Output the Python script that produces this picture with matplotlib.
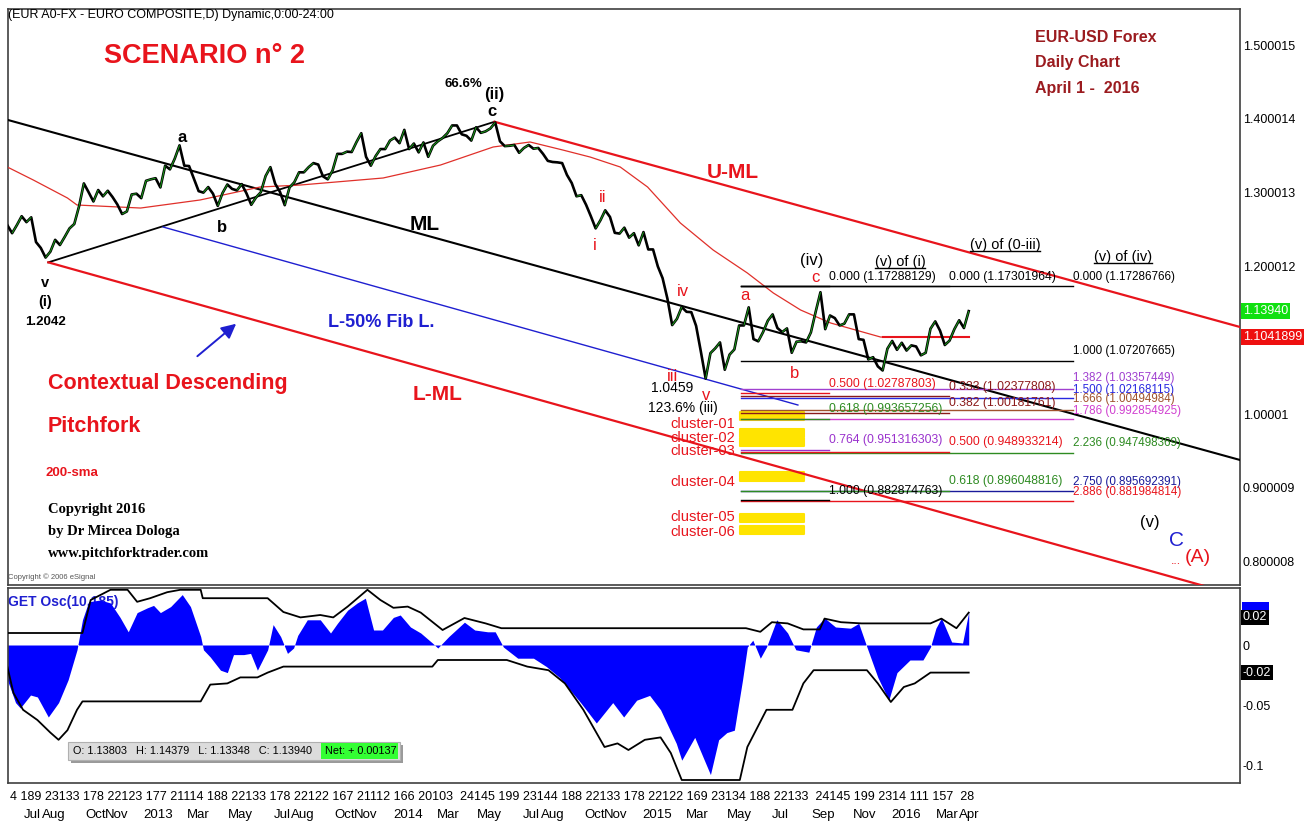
import matplotlib
matplotlib.use("Agg")
import matplotlib.pyplot as plt
import matplotlib.dates as mdates
from matplotlib.collections import LineCollection
from matplotlib.lines import Line2D
from matplotlib.patches import Rectangle
import numpy as np
import pandas as pd

W, H = 1314, 825
SANS = ["Liberation Sans", "DejaVu Sans"]
plt.rcParams["font.family"] = SANS

# --- weekly closes (Friday bars) ---
close_2012 = [1.2560, 1.2450, 1.2560, 1.2680, 1.2600, 1.2665, 1.2330, 1.2250, 1.2120, 1.2200,
              1.2360, 1.2290, 1.2400, 1.2515, 1.2575, 1.2815, 1.3125, 1.3005, 1.2880, 1.3035,
              1.2950, 1.3025, 1.2940, 1.2840, 1.2710, 1.2745, 1.2975, 1.2985, 1.2925, 1.3160,
              1.3180, 1.3195]
close_2013 = [1.3070, 1.3365, 1.3315, 1.3460, 1.3640, 1.3365, 1.3360, 1.3190, 1.3020, 1.3000,
              1.3075, 1.2985, 1.2820, 1.2995, 1.3110, 1.3050, 1.3030, 1.3115, 1.2990, 1.2835,
              1.2935, 1.3005, 1.3225, 1.3345, 1.3120, 1.3010, 1.2830, 1.3070, 1.3140, 1.3275,
              1.3275, 1.3345, 1.3400, 1.3380, 1.3220, 1.3180, 1.3300, 1.3525, 1.3525, 1.3555,
              1.3550, 1.3685, 1.3805, 1.3485, 1.3365, 1.3495, 1.3590, 1.3590, 1.3705, 1.3745,
              1.3670, 1.3850]
close_2014 = [1.3590, 1.3665, 1.3545, 1.3680, 1.3485, 1.3635, 1.3695, 1.3740, 1.3805, 1.3910,
              1.3910, 1.3790, 1.3770, 1.3705, 1.3885, 1.3810, 1.3830, 1.3870, 1.3950, 1.3695,
              1.3630, 1.3635, 1.3645, 1.3540, 1.3605, 1.3645, 1.3595, 1.3605, 1.3525, 1.3430,
              1.3415, 1.3410, 1.3400, 1.3240, 1.3130, 1.2950, 1.2965, 1.2835, 1.2680, 1.2515,
              1.2625, 1.2760, 1.2670, 1.2455, 1.2445, 1.2525, 1.2390, 1.2450, 1.2285, 1.2465,
              1.2230, 1.2230]
close_2015 = [1.2000, 1.1840, 1.1565, 1.1205, 1.1290, 1.1450, 1.1385, 1.1380, 1.1195, 1.0845,
              1.0480, 1.0825, 1.0890, 1.0970, 1.0600, 1.0805, 1.0875, 1.1200, 1.1200, 1.1445,
              1.1015, 1.0985, 1.1110, 1.1265, 1.1350, 1.1165, 1.1110, 1.1160, 1.0830, 1.0980,
              1.0985, 1.0970, 1.1105, 1.1385, 1.1650, 1.1150, 1.1335, 1.1300, 1.1200, 1.1225,
              1.1350, 1.1350, 1.1015, 1.1005, 1.0740, 1.0770, 1.0645, 1.0590, 1.0885, 1.0990,
              1.0870, 1.0965]
close_2016 = [1.0860, 1.0930, 1.0915, 1.0795, 1.0830, 1.1155, 1.1255, 1.1130, 1.0935, 1.0995,
              1.1150, 1.1270, 1.1165, 1.1394]
first_week = "2012-05-25"

# 200-sma as drawn on the chart
sma_dates = ["2012-05-25", "2012-07-02", "2012-08-21", "2012-09-04", "2012-12-06", "2013-03-03",
             "2013-05-30", "2013-07-28", "2013-11-26", "2014-02-18", "2014-05-06", "2014-06-29",
             "2014-08-16", "2014-09-25", "2014-11-08", "2014-12-18", "2015-02-04", "2015-03-24",
             "2015-05-13", "2015-06-20", "2015-07-30", "2015-09-12", "2015-11-24", "2016-04-01"]
sma_vals = [1.3347, 1.3171, 1.2927, 1.2832, 1.2791, 1.2900, 1.3076, 1.3103, 1.3198, 1.3374,
            1.3618, 1.3686, 1.3577, 1.3482, 1.3347, 1.3076, 1.2588, 1.2222, 1.1911, 1.1640,
            1.1409, 1.1233, 1.1043, 1.1043]

# pitchfork anchors (date, price)
fork = {
    "ML": [("2012-05-26", 1.3984), ("2017-05-03", 0.9377)],
    "handle": [("2012-07-24", 1.2055), ("2014-05-08", 1.3960)],
    "U-ML": [("2014-05-08", 1.3960), ("2017-05-03", 1.1179)],
    "L-ML": [("2012-07-24", 1.2055), ("2017-05-03", 0.7534)],
    "L-50%": [("2013-01-08", 1.2534), ("2015-07-26", 1.0122)],
}
uml_value = 1.1041899
last_close = 1.1394

# fibonacci tools: (tool, ratio, price)
fib_levels = [
    ("A", "0.000", 1.17288129), ("B", "0.000", 1.17301964), ("C", "0.000", 1.17286766),
    ("C", "1.000", 1.07207665),
    ("A", "0.500", 1.02787803), ("A", "0.618", 0.993657256), ("A", "0.764", 0.951316303),
    ("A", "1.000", 0.882874763),
    ("B", "0.333", 1.02377808), ("B", "0.382", 1.00181761), ("B", "0.500", 0.948933214),
    ("B", "0.618", 0.896048816),
    ("C", "1.382", 1.03357449), ("C", "1.500", 1.02168115), ("C", "1.666", 1.00494984),
    ("C", "1.786", 0.992854925), ("C", "2.236", 0.947498369), ("C", "2.750", 0.895692391),
    ("C", "2.886", 0.881984814),
]
fib_colors = ["black", "black", "black", "black",
              "#e8141c", "#2e8b22", "#9a32cd", "black",
              "#8b1a1a", "#8b1a1a", "#e8141c", "#2e8b22",
              "#a040d0", "#2828e0", "#a0522d", "#d040d0", "#2e8b22", "#1a1a9a", "#e8141c"]

clusters = [("cluster-01", 0.9920, 1.0028), ("cluster-02", 0.9690, 0.9792),
            ("cluster-03", 0.9560, 0.9675), ("cluster-04", 0.9098, 0.9208),
            ("cluster-05", 0.8532, 0.8640), ("cluster-06", 0.8380, 0.8478)]

# GET oscillator and its bands
osc_dates = ["2012-05-25", "2012-06-06", "2012-06-13", "2012-06-28", "2012-07-08", "2012-07-24",
             "2012-08-08", "2012-08-22", "2012-09-04", "2012-09-12", "2012-09-21", "2012-10-08",
             "2012-10-23", "2012-11-06", "2012-11-18", "2012-12-01", "2012-12-16", "2012-12-25",
             "2013-01-04", "2013-01-19", "2013-02-05", "2013-02-17", "2013-03-04", "2013-03-08",
             "2013-03-18", "2013-04-02", "2013-04-12", "2013-04-21", "2013-05-06", "2013-05-16",
             "2013-05-26", "2013-06-10", "2013-06-18", "2013-06-29", "2013-07-09", "2013-07-18",
             "2013-07-24", "2013-08-07", "2013-08-26", "2013-09-10", "2013-09-20", "2013-10-05",
             "2013-10-19", "2013-10-31", "2013-11-12", "2013-11-25", "2013-12-11", "2013-12-21",
             "2014-01-05", "2014-01-20", "2014-02-06", "2014-02-14", "2014-03-02", "2014-03-25",
             "2014-04-09", "2014-04-28", "2014-05-09", "2014-05-21", "2014-06-11", "2014-07-04",
             "2014-07-23", "2014-08-11", "2014-09-11", "2014-10-04", "2014-10-28", "2014-11-13",
             "2014-12-02", "2014-12-21", "2015-01-06", "2015-01-29", "2015-02-06", "2015-02-25",
             "2015-03-20", "2015-04-01", "2015-04-13", "2015-04-24", "2015-05-06", "2015-05-13",
             "2015-05-21", "2015-06-01", "2015-06-10", "2015-06-25", "2015-07-11", "2015-07-23",
             "2015-08-11", "2015-08-22", "2015-09-03", "2015-09-19", "2015-10-11", "2015-10-23",
             "2015-11-04", "2015-11-20", "2015-12-06", "2015-12-18", "2016-01-06", "2016-01-25",
             "2016-02-05", "2016-02-13", "2016-02-21", "2016-03-07", "2016-03-23", "2016-04-01"]
osc_vals = [-0.029, -0.048, -0.0525, -0.0417, -0.0433, -0.060, -0.048, -0.029, -0.004, 0.021,
            0.036, 0.0375, 0.035, 0.023, 0.011, 0.027, 0.031, 0.033,
            0.027, 0.032, 0.042, 0.032, 0.007, -0.004, -0.010, -0.021, -0.023, -0.008,
            -0.008, -0.007, -0.021, -0.004, 0.017, 0.007, -0.007, -0.0025, 0.008, 0.021,
            0.021, 0.010, 0.018, 0.029, 0.035, 0.039, 0.0125, 0.0125, 0.023, 0.025,
            0.015, 0.010, 0.0017, -0.0025, 0.007, 0.019, 0.0125, 0.011, 0.011, -0.0017,
            -0.011, -0.011, -0.018, -0.027, -0.048, -0.065, -0.048, -0.060, -0.046, -0.042,
            -0.054, -0.082, -0.096, -0.077, -0.108, -0.079, -0.073, -0.071, -0.029, -0.0017,
            0.004, -0.011, -0.0017, 0.021, 0.010, -0.004, -0.006, 0.015, 0.0225, 0.015,
            0.014, 0.018, -0.0017, -0.027, -0.046, -0.023,
            -0.0125, -0.0125, -0.0017, 0.014, 0.0225, 0.0025, 0.0017, 0.0275]
band_up_dates = ["2012-05-25", "2012-09-12", "2012-09-24", "2012-10-23", "2012-11-17", "2012-12-01",
                 "2012-12-20", "2013-01-14", "2013-02-02", "2013-03-04", "2013-03-07", "2013-06-10",
                 "2013-07-03", "2013-07-28", "2013-08-26", "2013-09-14", "2013-10-05", "2013-11-03",
                 "2013-11-22", "2013-12-11", "2014-01-01", "2014-01-20", "2014-02-21", "2014-03-25",
                 "2014-04-25", "2014-05-18", "2015-05-11", "2015-06-01", "2015-06-18", "2015-07-11",
                 "2015-08-03", "2015-08-27", "2015-09-03", "2015-09-27", "2015-10-27", "2016-02-05",
                 "2016-02-21", "2016-03-14", "2016-04-01"]
band_up_vals = [0.010, 0.010, 0.0375, 0.046, 0.046, 0.036, 0.039, 0.044, 0.046, 0.046,
                0.039, 0.039, 0.0275, 0.023, 0.025, 0.023, 0.032, 0.046, 0.0375, 0.031,
                0.032, 0.027, 0.0125, 0.0225, 0.018, 0.014, 0.014, 0.011, 0.019, 0.018,
                0.013, 0.013, 0.022, 0.019, 0.018, 0.018, 0.022, 0.014, 0.027]
band_lo_dates = ["2012-05-25", "2012-06-03", "2012-06-17", "2012-07-08", "2012-07-27", "2012-08-08",
                 "2012-08-21", "2012-09-04", "2012-09-12", "2013-03-04", "2013-03-18", "2013-04-12",
                 "2013-05-01", "2013-05-26", "2013-06-10", "2013-07-03", "2014-02-06", "2014-02-14",
                 "2014-05-26", "2014-06-25", "2014-07-26", "2014-08-19", "2014-09-15", "2014-10-16",
                 "2014-11-04", "2014-11-20", "2014-12-14", "2015-01-06", "2015-01-21", "2015-02-06",
                 "2015-05-02", "2015-05-13", "2015-06-10", "2015-07-18", "2015-08-03", "2015-08-18",
                 "2015-11-04", "2015-11-20", "2015-12-09", "2015-12-28", "2016-01-13", "2016-02-05",
                 "2016-04-01"]
band_lo_vals = [-0.018, -0.040, -0.054, -0.0625, -0.073, -0.079, -0.071, -0.054, -0.047,
                -0.047, -0.033, -0.032, -0.027, -0.027, -0.023, -0.018,
                -0.018, -0.0125, -0.0125, -0.018, -0.021, -0.032, -0.054, -0.085, -0.082,
                -0.0875, -0.079, -0.077, -0.090, -0.1125, -0.1125, -0.085, -0.054, -0.054,
                -0.032, -0.021, -0.021, -0.032, -0.0475, -0.035, -0.032, -0.023, -0.023]

price_ticks = [1.500015, 1.400014, 1.300013, 1.200012, 1.00001, 0.900009, 0.800008]
price_tick_labels = ["1.500015", "1.400014", "1.300013", "1.200012", "1.00001", "0.900009", "0.800008"]
osc_ticks = [0, -0.05, -0.1]
osc_tick_labels = ["0", "-0.05", "-0.1"]
month_dates = ["2012-07-01", "2012-08-01", "2012-10-01", "2012-11-01", "2013-01-01", "2013-03-01",
               "2013-05-01", "2013-07-01", "2013-08-01", "2013-10-01", "2013-11-01", "2014-01-01",
               "2014-03-01", "2014-05-01", "2014-07-01", "2014-08-01", "2014-10-01", "2014-11-01",
               "2015-01-01", "2015-03-01", "2015-05-01", "2015-07-01", "2015-09-01", "2015-11-01",
               "2016-01-01", "2016-03-01", "2016-04-01"]
month_labels = ["Jul", "Aug", "Oct", "Nov", "2013", "Mar", "May", "Jul", "Aug", "Oct", "Nov", "2014",
                "Mar", "May", "Jul", "Aug", "Oct", "Nov", "2015", "Mar", "May", "Jul", "Sep", "Nov",
                "2016", "Mar", "Apr"]
day_row = ("4 189 23133 178 22123 177 21114 188 22133 178 22122 167 21112 166 20103  24145 199 "
           "23144 188 22133 178 22122 169 23134 188 22133  24145 199 2314 111 157  28")
ohlc = {"O": 1.13803, "H": 1.14379, "L": 1.13348, "C": 1.13940}
net_change = 0.00137

RED = "#e8141c"
BLUE = "#1f1fd0"


def d(s):
    return mdates.date2num(pd.to_datetime(s))


fig = plt.figure(figsize=(W / 100, H / 100), dpi=100)
fig.patch.set_facecolor("white")


def ftext(x, y, s, size=10, color="black", weight="normal", ha="center", va="center", **kw):
    return fig.text(x / W, 1 - y / H, s, fontsize=size, color=color, fontweight=weight,
                    ha=ha, va=va, **kw)


ax = fig.add_axes([8 / W, 1 - 585 / H, 1232 / W, 576 / H])
osc = fig.add_axes([8 / W, 1 - 783 / H, 1232 / W, 195 / H])
x_range = (d("2012-05-26"), d("2017-05-03"))

for a in (ax, osc):
    a.set_xlim(*x_range)
    for sp in a.spines.values():
        sp.set_color("#404040")
        sp.set_linewidth(1.2)
    a.yaxis.tick_right()
    a.tick_params(axis="y", length=0, pad=2, labelsize=9)

# --- main panel ---
ax.set_ylim(0.7683, 1.5488)
ax.set_yticks(price_ticks)
ax.set_yticklabels(price_tick_labels)
ax.tick_params(axis="x", length=0, labelbottom=False)

fork_style = {"ML": ("black", 1.5), "handle": ("black", 1.3), "U-ML": (RED, 1.6),
              "L-ML": (RED, 1.6), "L-50%": (BLUE, 1.0)}
for name, pts in fork.items():
    col, lw = fork_style[name]
    ax.plot([d(p[0]) for p in pts], [p[1] for p in pts], color=col, lw=lw, zorder=3)

ax.plot(d(sma_dates), sma_vals, color="#e0302a", lw=0.9, zorder=3)
ax.plot([d("2015-11-27"), d("2016-04-01")], [uml_value, uml_value], color=RED, lw=1.5, zorder=3)

closes = np.array(close_2012 + close_2013 + close_2014 + close_2015 + close_2016)
weeks = mdates.date2num(pd.date_range(first_week, periods=len(closes), freq="W-FRI"))
ax.plot(weeks, closes, color="black", lw=1.9, zorder=6)
ups = np.where(np.diff(closes) > 0)[0]
segs = [[(weeks[i], closes[i]), (weeks[i + 1], closes[i + 1])] for i in ups]
ax.add_collection(LineCollection(segs, colors="#1aa01a", linewidths=0.7, zorder=7))

# fibonacci levels
fib_start = d("2015-05-04")
col_end = {"A": d("2015-09-09"), "B": d("2016-03-03"), "C": d("2016-08-31")}
for tool in ("C", "B", "A"):
    for (t, ratio, price), col in zip(fib_levels, fib_colors):
        if t != tool:
            continue
        ax.plot([fib_start, col_end[t]], [price, price], color=col, lw=1.0, zorder=4)
for (t, ratio, price), col in zip(fib_levels, fib_colors):
    lift = 3.5 if ratio in ("1.382", "1.666") else 1.5 if ratio in ("1.500", "1.786") else 2.5
    ax.annotate(f"{ratio} ({price})", xy=(col_end[t], price), xytext=(0, lift),
                textcoords="offset points", ha="left", va="bottom",
                fontsize=8.4 if t == "C" else 8.8, color=col, zorder=8)

# cluster boxes
box_x0, box_x1 = d("2015-05-02"), d("2015-08-04")
for name, lo, hi in clusters:
    ax.add_patch(Rectangle((box_x0, lo), box_x1 - box_x0, hi - lo, facecolor="#ffe400",
                           edgecolor="#ffe400", lw=1.5, joinstyle="round", zorder=2))

ax.annotate("", xy=(d("2013-04-28"), 1.1247), xytext=(d("2013-02-24"), 1.0759),
            arrowprops=dict(arrowstyle="-|>", color=BLUE, lw=1.4, mutation_scale=22))

# value boxes on the right scale
for val, txt, fc in [(last_close, f"{last_close:.5f}", "#10e010"), (uml_value, f"{uml_value}", "#ee1010")]:
    ax.annotate(txt, xy=(1.0, val), xycoords=("axes fraction", "data"), xytext=(2, 0),
                textcoords="offset points", ha="left", va="center", fontsize=9, color="white",
                bbox=dict(boxstyle="square,pad=0.15", fc=fc, ec="none"), annotation_clip=False)

# --- oscillator panel ---
osc.set_ylim(-0.115, 0.0475)
osc.text(0.0, 0.93, "GET Osc(10,185)", transform=osc.transAxes, color=BLUE, fontsize=10,
         fontweight="bold", ha="left", va="center", zorder=1)
xo = d(osc_dates)
osc.fill_between(xo, osc_vals, 0, color="#0000ff", lw=0, zorder=2)
osc.plot(d(band_up_dates), band_up_vals, color="black", lw=1.3, zorder=3)
osc.plot(d(band_lo_dates), band_lo_vals, color="black", lw=1.3, zorder=3)
osc.set_yticks(osc_ticks)
osc.set_yticklabels(osc_tick_labels)
osc.add_patch(Rectangle((1.0015, osc_vals[-1] + 0.002), 0.022, 0.0065, facecolor="#0000ff",
                        edgecolor="none", transform=osc.get_yaxis_transform(), clip_on=False))
for val, txt in [(band_up_vals[-1] - 0.004, "0.02"), (band_lo_vals[-1], "-0.02")]:
    osc.annotate(txt, xy=(1.0, val), xycoords=("axes fraction", "data"), xytext=(2, 0),
                 textcoords="offset points", ha="left", va="center", fontsize=9, color="white",
                 bbox=dict(boxstyle="square,pad=0.15", fc="black", ec="none"), annotation_clip=False)
osc.set_xticks(d(month_dates))
osc.set_xticklabels(month_labels, fontsize=9.5)
osc.tick_params(axis="x", length=0, pad=19)

# --- text annotations (figure pixel positions) ---
ftext(8, 15, "(EUR A0-FX - EURO COMPOSITE,D) Dynamic,0:00-24:00", size=9, ha="left")
ftext(104, 56, "SCENARIO n° 2", size=19.5, color=RED, weight="bold", ha="left")
for i, s in enumerate(["EUR-USD Forex", "Daily Chart", "April 1 -  2016"]):
    ftext(1035, 38 + 25 * i, s, size=11.5, color="#9b1b1f", weight="bold", ha="left")

for x, y, s, size, col, wt in [
    (463, 84, "66.6%", 9.5, "black", "bold"), (494, 95, "(ii)", 12, "black", "bold"),
    (492, 111, "c", 12, "black", "bold"), (182, 137, "a", 12, "black", "bold"),
    (222, 228, "b", 12, "black", "bold"), (45, 283, "v", 10.5, "black", "bold"),
    (45, 302, "(i)", 10.5, "black", "bold"), (45, 322, "1.2042", 9.5, "black", "bold"),
    (425, 224, "ML", 15, "black", "bold"), (733, 172, "U-ML", 15, RED, "bold"),
    (381, 322, "L-50% Fib L.", 13, BLUE, "bold"), (438, 395, "L-ML", 15, RED, "bold"),
    (603, 197, "ii", 12, RED, "normal"), (595, 246, "i", 12, RED, "normal"),
    (683, 292, "iv", 12, RED, "normal"), (672, 376, "iii", 12, RED, "normal"),
    (706, 395, "v", 12, RED, "normal"), (672, 388, "1.0459", 10, "black", "normal"),
    (683, 408, "123.6% (iii)", 10, "black", "normal"), (745, 296, "a", 12, RED, "normal"),
    (795, 374, "b", 12, RED, "normal"), (815, 277, "c", 12, RED, "normal"),
    (812, 261, "(iv)", 12, "black", "normal"), (1150, 522, "(v)", 12, "black", "normal"),
    (1176, 540, "C", 15, BLUE, "normal"), (1176, 561, "...", 9, RED, "normal"),
    (1198, 557, "(A)", 14, RED, "normal"),
]:
    ftext(x, y, s, size=size, color=col, weight=wt)

ftext(48, 383, "Contextual Descending", size=15.5, color=RED, weight="bold", ha="left")
ftext(48, 427, "Pitchfork", size=15.5, color=RED, weight="bold", ha="left")
ftext(46, 473, "200-sma", size=9.5, color=RED, weight="bold", ha="left")
for i, s in enumerate(["Copyright 2016", "by Dr Mircea Dologa", "www.pitchforktrader.com"]):
    ftext(48, 509 + 22 * i, s, size=10.5, weight="bold", ha="left",
          family=["Liberation Serif", "DejaVu Serif"])
ftext(8, 577, "Copyright \u00a9 2006 eSignal", size=5.5, color="#555555", ha="left")

for (name, lo, hi), y in zip(clusters, [424, 438, 451, 482, 517, 532]):
    ftext(735, y, name, size=10.5, color=RED, ha="right")

# OHLC box in the oscillator
fig.add_artist(Rectangle((71 / W, 1 - 763 / H), 332 / W, 18 / H, transform=fig.transFigure,
                         facecolor="#9a9a9a", edgecolor="none"))
fig.add_artist(Rectangle((68 / W, 1 - 760 / H), 332 / W, 18 / H, transform=fig.transFigure,
                         facecolor="#dcdcdc", edgecolor="#b0b0b0", lw=0.8))
fig.add_artist(Rectangle((321 / W, 1 - 759 / H), 77 / W, 16 / H, transform=fig.transFigure,
                         facecolor="#33ff33", edgecolor="none"))
ftext(73, 751, "   ".join(f"{k}: {v:.5f}" for k, v in ohlc.items()), size=7.8, ha="left")
ftext(325, 751, f"Net: + {net_change:.5f}", size=7.8, ha="left")

# underlined wave targets and day-number row
wave_targets = [ftext(900, 262, "(v) of (i)", size=10.5), ftext(1005, 245, "(v) of (0-iii)", size=10.5),
                ftext(1123, 257, "(v) of (iv)", size=10.5)]
row = ftext(10, 797, day_row, size=10, ha="left")
fig.canvas.draw()
bb = row.get_window_extent()
row.set_fontsize(10 * 966 / bb.width)
for t in wave_targets:
    bb = t.get_window_extent()
    yl = (bb.y0 + 1) / H
    fig.add_artist(Line2D([bb.x0 / W, bb.x1 / W], [yl, yl], transform=fig.transFigure,
                          color="black", lw=1.0))

fig.savefig("out.png", dpi=100, facecolor="white")
